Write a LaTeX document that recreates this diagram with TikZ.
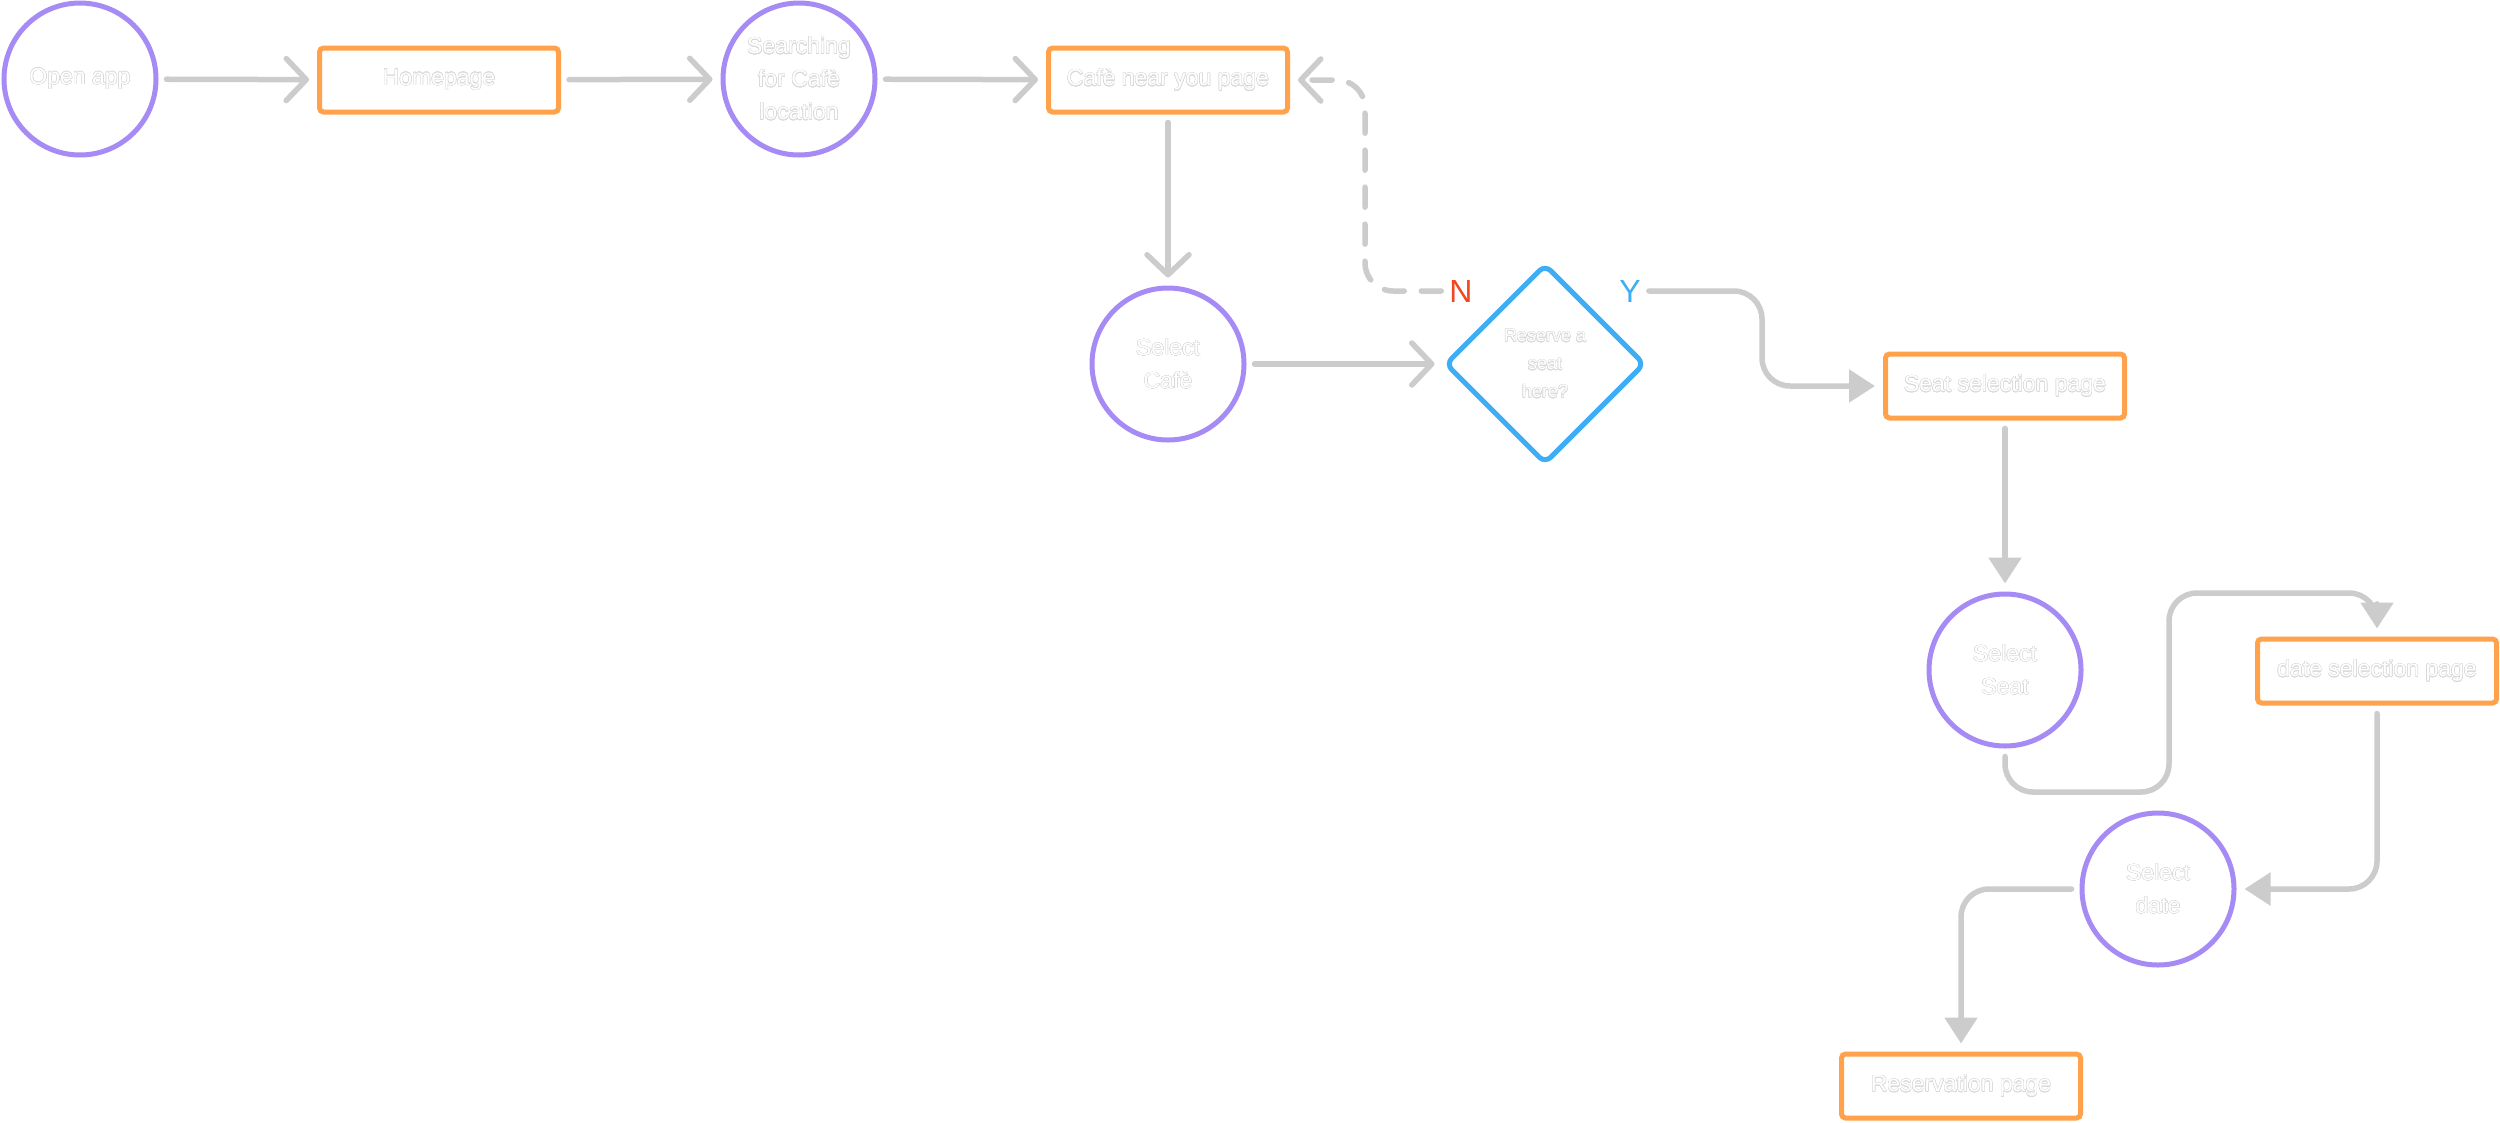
\documentclass[tikz,border=0pt]{standalone}
\usepackage{fontspec}
\setmainfont{Liberation Sans}
\usepackage{contour}
\contourlength{0.45pt}
\usetikzlibrary{arrows.meta,shapes.geometric}
\definecolor{cpurple}{HTML}{A68BF5}
\definecolor{corange}{HTML}{FFA24B}
\definecolor{cblue}{HTML}{3DAEF5}
\definecolor{cred}{HTML}{F24822}
\definecolor{cgray}{HTML}{CCCCCC}
\definecolor{tgray}{HTML}{D9D9D9}
\newcommand\ot[1]{\textcolor{white}{\contour{tgray}{#1}}}
\tikzset{
  circ/.style={circle,draw=cpurple,line width=5pt,minimum size=152pt,inner sep=0pt,align=center,font=\fontsize{23}{33}\selectfont},
  pagebox/.style={rectangle,draw=corange,line width=5pt,minimum width=239pt,minimum height=64pt,inner sep=0pt,rounded corners=4pt,align=center,font=\fontsize{23}{28}\selectfont},
  decide/.style={diamond,draw=cblue,line width=5pt,minimum width=200pt,minimum height=200pt,inner sep=0pt,rounded corners=8pt,align=center,font=\fontsize{18}{28}\selectfont},
  lbl/.style={inner sep=0pt,font=\fontsize{32}{32}\selectfont},
  conn/.style={draw=cgray,line width=5.5pt,line cap=round,line join=round,shorten <=8pt,shorten >=8pt},
  openarr/.style={conn,-{Straight Barb[length=20pt,width=42pt,line cap=round,line join=round]}},
  fillarr/.style={conn,rounded corners=28pt,-{Triangle[length=26pt,width=32pt]}}
}
\begin{document}
\begin{tikzpicture}[x=1pt,y=-1pt]
\useasboundingbox (0,0) rectangle (2500,1122);
\fill[white] (0,0) rectangle (2500,1122);
\node[circ] (open) at (80,79) {\ot{Open app}};
\node[pagebox] (home) at (439,80) {\ot{Homepage}};
\node[circ] (search) at (799,79) {\ot{Searching}\\\ot{for Cafè}\\\ot{location}};
\node[pagebox] (near) at (1168,80) {\ot{Cafè near you page}};
\node[circ] (selcafe) at (1168,364) {\ot{Select}\\\ot{Cafè}};
\node[decide] (dia) at (1545,364) {\ot{Reserve a}\\\ot{seat}\\\ot{here?}};
\node[lbl,text=cred] (nlab) at (1461,291) {N};
\node[lbl,text=cblue] (ylab) at (1630,291) {Y};
\node[pagebox] (seatpage) at (2005,386) {\ot{Seat selection page}};
\node[circ] (selseat) at (2005,670) {\ot{Select}\\\ot{Seat}};
\node[pagebox] (datepage) at (2377,671) {\ot{date selection page}};
\node[circ] (seldate) at (2158,889) {\ot{Select}\\\ot{date}};
\node[pagebox] (respage) at (1961,1086) {\ot{Reservation page}};

\draw[openarr] (open) -- (home);
\draw[openarr] (home) -- (search);
\draw[openarr] (search) -- (near);
\draw[openarr] (near) -- (selcafe);
\draw[openarr] (selcafe) -- (dia);
\draw[openarr,dash pattern=on 20pt off 17pt,rounded corners=28pt] (nlab.west) -- (1365,291) -- (1365,80) -- (near.east);
\draw[fillarr] (ylab.east) -- (1762,291) -- (1762,386) -- (seatpage.west);
\draw[fillarr] (seatpage) -- (selseat);
\draw[fillarr] (selseat.south) -- (2005,792) -- (2169,792) -- (2169,593) -- (2377,593) -- (datepage.north);
\draw[fillarr] (datepage.south) -- (2377,889) -- (seldate.east);
\draw[fillarr] (seldate.west) -- (1961,889) -- (respage.north);
\end{tikzpicture}
\end{document}
